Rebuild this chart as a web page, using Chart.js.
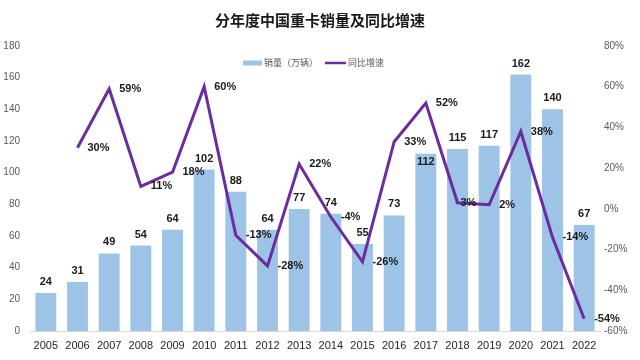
<!DOCTYPE html>
<html>
<head>
<meta charset="utf-8">
<script src="https://cdn.jsdelivr.net/npm/chart.js@4/dist/chart.umd.min.js"></script>
<style>
  html, body { margin: 0; padding: 0; background: #fff; }
  #wrap { width: 640px; height: 360px; }
</style>
</head>
<body>
<div id="wrap"><canvas id="chart" width="640" height="360"></canvas></div>
<script>
const years = ['2005', '2006', '2007', '2008', '2009', '2010', '2011', '2012', '2013',
  '2014', '2015', '2016', '2017', '2018', '2019', '2020', '2021', '2022'];
const sales = [24, 31, 49, 54, 64, 102, 88, 64, 77, 74, 55, 73, 112, 115, 117, 162, 140, 67];
const growth = [null, 30, 59, 11, 18, 60, -13, -28, 22, -4, -26, 33, 52, 3, 2, 38, -14, -54];
const leftTicks = [0, 180, 20];
const rightTicks = [-60, 80, 20];

const barColor = '#9DC3E6';
const lineColor = '#6A2C9E';
const labelFont = 'bold 11px "Liberation Sans", Arial, sans-serif';

// value labels on bars and line points
const valueLabels = {
  id: 'valueLabels',
  afterDatasetsDraw(chart) {
    const ctx = chart.ctx;
    ctx.save();
    ctx.font = labelFont;
    ctx.fillStyle = '#1a1a1a';
    ctx.textBaseline = 'middle';
    chart.getDatasetMeta(1).data.forEach((bar, i) => {
      ctx.textAlign = 'center';
      // 2017 label sits just inside the bar, clear of the 33% label
      const dy = years[i] === '2017' ? 8 : -11;
      ctx.fillText(sales[i], bar.x, bar.y + dy);
    });
    chart.getDatasetMeta(0).data.forEach((pt, i) => {
      if (growth[i] === null) return;
      ctx.textAlign = 'left';
      const dx = years[i] === '2018' ? 3 : 10;
      ctx.fillText(growth[i] + '%', pt.x + dx, pt.y);
    });
    ctx.restore();
  }
};

// legend drawn inside the plot area
const innerLegend = {
  id: 'innerLegend',
  afterDraw(chart) {
    const ctx = chart.ctx;
    const y = 63;
    ctx.save();
    ctx.font = '9px "Noto Sans CJK SC", sans-serif';
    ctx.textBaseline = 'middle';
    ctx.textAlign = 'left';
    ctx.fillStyle = barColor;
    ctx.fillRect(243, y - 2.5, 19, 5);
    ctx.fillStyle = '#595959';
    ctx.fillText('销量（万辆）', 264, y);
    ctx.strokeStyle = lineColor;
    ctx.lineWidth = 2.5;
    ctx.beginPath();
    ctx.moveTo(325, y);
    ctx.lineTo(346, y);
    ctx.stroke();
    ctx.fillText('同比增速', 348, y);
    ctx.restore();
  }
};

new Chart(document.getElementById('chart'), {
  data: {
    labels: years,
    datasets: [
      {
        type: 'line',
        label: '同比增速',
        data: growth,
        yAxisID: 'y1',
        borderColor: lineColor,
        borderWidth: 3,
        pointRadius: 0,
        tension: 0,
        order: 0
      },
      {
        type: 'bar',
        label: '销量（万辆）',
        data: sales,
        yAxisID: 'y',
        backgroundColor: barColor,
        categoryPercentage: 1,
        barPercentage: 0.66,
        order: 1
      }
    ]
  },
  options: {
    responsive: false,
    animation: false,
    layout: { padding: { left: 0, right: 0, top: 0, bottom: 0 } },
    plugins: {
      legend: { display: false },
      tooltip: { enabled: false },
      title: {
        display: true,
        text: '分年度中国重卡销量及同比增速',
        font: { size: 15, weight: 'bold', family: '"Noto Sans CJK SC", sans-serif' },
        color: '#1a1a1a',
        padding: { top: 11, bottom: 17 }
      }
    },
    scales: {
      x: {
        grid: { display: false, drawTicks: false },
        border: { display: true, color: '#d9d9d9' },
        ticks: {
          color: '#262626',
          font: { size: 11, family: '"Liberation Sans", Arial, sans-serif' },
          padding: 8,
          maxRotation: 0
        },
        afterFit(s) { s.height = 29; }
      },
      y: {
        position: 'left',
        min: leftTicks[0],
        max: leftTicks[1],
        grid: { display: false, drawTicks: false },
        border: { display: false },
        ticks: {
          stepSize: leftTicks[2],
          color: '#595959',
          font: { size: 10, family: '"Liberation Sans", Arial, sans-serif' },
          padding: 10
        },
        afterFit(s) { s.width = 30; }
      },
      y1: {
        position: 'right',
        min: rightTicks[0],
        max: rightTicks[1],
        grid: { display: false, drawTicks: false },
        border: { display: false },
        ticks: {
          stepSize: rightTicks[2],
          color: '#595959',
          font: { size: 10, family: '"Liberation Sans", Arial, sans-serif' },
          padding: 4,
          callback: v => v + '%'
        },
        afterFit(s) { s.width = 40; }
      }
    }
  },
  plugins: [valueLabels, innerLegend]
});
</script>
</body>
</html>
